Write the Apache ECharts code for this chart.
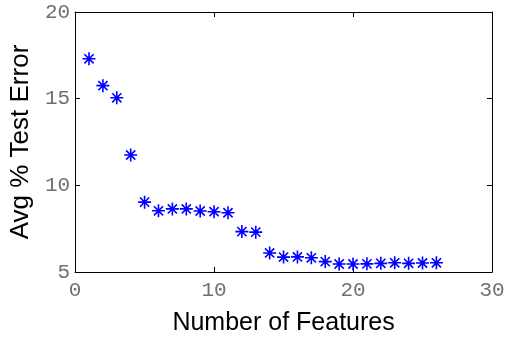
<!DOCTYPE html>
<html>
<head>
<meta charset="utf-8">
<script src="https://cdn.jsdelivr.net/npm/echarts@6/dist/echarts.min.js"></script>
<style>
html,body{margin:0;padding:0;background:#fff;}
#c{width:511px;height:341px;}
</style>
</head>
<body>
<div id="c"></div>
<script>
const numFeatures = [1,2,3,4,5,6,7,8,9,10,11,12,13,14,15,16,17,18,19,20,21,22,23,24,25,26];
const avgTestError = [17.3,15.75,15.05,11.75,9.03,8.53,8.64,8.64,8.52,8.48,8.42,7.33,7.3,6.1,5.86,5.87,5.82,5.6,5.46,5.46,5.47,5.5,5.53,5.5,5.52,5.53];
const xTicks = [0,10,20,30];
const yTicks = [5,10,15,20];
const xTitle = 'Number of Features';
const yTitle = 'Avg % Test Error';

const chart = echarts.init(document.getElementById('c'), null, {renderer:'canvas'});
const tickFont = {fontFamily:'Liberation Mono', fontSize:21, color:'#707070'};
const option = {
  animation:false,
  backgroundColor:'#fff',
  grid:{left:75,right:19,top:12,bottom:56,show:false},
  xAxis:[{
    type:'value', min:xTicks[0], max:xTicks[xTicks.length-1], interval:10,
    name:xTitle, nameLocation:'middle', nameGap:39,
    nameTextStyle:{fontFamily:'Liberation Sans', fontSize:25, color:'#000'},
    axisLine:{show:true,onZero:false,lineStyle:{color:'#000',width:1}},
    axisTick:{show:true,inside:true,length:5,lineStyle:{color:'#000'}},
    axisLabel:Object.assign({margin:8},tickFont),
    splitLine:{show:false}
  },{
    type:'value', position:'top', min:xTicks[0], max:xTicks[xTicks.length-1], interval:10,
    axisLine:{show:true,onZero:false,lineStyle:{color:'#000',width:1}},
    axisTick:{show:true,inside:true,length:5,lineStyle:{color:'#000'}},
    axisLabel:{show:false}, splitLine:{show:false}
  }],
  yAxis:[{
    type:'value', min:yTicks[0], max:yTicks[yTicks.length-1], interval:5,
    name:yTitle, nameLocation:'middle', nameGap:37, nameRotate:90,
    nameTextStyle:{fontFamily:'Liberation Sans', fontSize:26, color:'#000'},
    axisLine:{show:true,onZero:false,lineStyle:{color:'#000',width:1}},
    axisTick:{show:true,inside:true,length:5,lineStyle:{color:'#000'}},
    axisLabel:Object.assign({margin:5},tickFont),
    splitLine:{show:false}
  },{
    type:'value', position:'right', min:yTicks[0], max:yTicks[yTicks.length-1], interval:5,
    axisLine:{show:true,onZero:false,lineStyle:{color:'#000',width:1}},
    axisTick:{show:true,inside:true,length:5,lineStyle:{color:'#000'}},
    axisLabel:{show:false}, splitLine:{show:false}
  }],
  series:[{
    type:'scatter',
    data:numFeatures.map((x,i)=>[x,avgTestError[i]]),
    symbol:'path://M0,6L12,6M6,0L6,12M1.76,1.76L10.24,10.24M10.24,1.76L1.76,10.24',
    symbolSize:13,
    itemStyle:{color:'rgba(0,0,0,0)',borderColor:'#0000ff',borderWidth:1.6,opacity:1},
    emphasis:{disabled:true}
  }]
};
chart.setOption(option);
</script>
</body>
</html>
